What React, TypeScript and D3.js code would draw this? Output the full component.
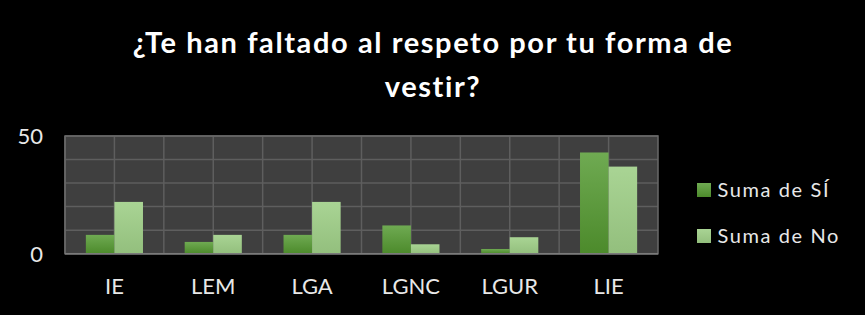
import React from "react";
import * as d3 from "d3";

const categories = ["IE", "LEM", "LGA", "LGNC", "LGUR", "LIE"];
const seriesNames = ["Suma de SÍ", "Suma de No"];
const valuesSi = [8, 5, 8, 12, 2, 43];
const valuesNo = [22, 8, 22, 4, 7, 37];
const yTicks = [0, 10, 20, 30, 40, 50];
const yTickLabels = [0, 50];
const titleLines = ["¿Te han faltado al respeto por tu forma de", "vestir?"];

const W = 865;
const H = 315;
const plot = { left: 65, right: 658, top: 136, bottom: 253.7 };
const FONT = "Lato, 'Open Sans', sans-serif";

export default function App() {
  const x = d3
    .scaleBand<string>()
    .domain(categories)
    .range([plot.left, plot.right]);
  const inner = d3
    .scaleBand<number>()
    .domain([0, 1])
    .range([0, x.bandwidth()])
    .paddingInner(0)
    .paddingOuter(0.73);
  const y = d3.scaleLinear().domain([0, 50]).range([plot.bottom, plot.top]);

  const series = [valuesSi, valuesNo];
  const fills = ["url(#gSi)", "url(#gNo)"];

  const vLines: number[] = [];
  categories.forEach((c) => {
    vLines.push(x(c)!);
    vLines.push(x(c)! + x.bandwidth() / 2);
  });

  return (
    <svg
      width={W}
      height={H}
      style={{ position: "absolute", left: 0, top: 0, background: "#000" }}
    >
      <defs>
        <linearGradient id="gSi" x1="0" y1="0" x2="0" y2="1">
          <stop offset="0" stopColor="#6faa52" />
          <stop offset="1" stopColor="#4c8a2b" />
        </linearGradient>
        <linearGradient id="gNo" x1="0" y1="0" x2="0" y2="1">
          <stop offset="0" stopColor="#a9d494" />
          <stop offset="1" stopColor="#93bf7d" />
        </linearGradient>
      </defs>
      <rect x={0} y={0} width={W} height={H} fill="#000" />
      {titleLines.map((t, i) => (
        <text
          key={i}
          x={433}
          y={i === 0 ? 53 : 97}
          textAnchor="middle"
          fill="#fff"
          fontFamily={FONT}
          fontWeight="bold"
          fontSize={29}
          letterSpacing={1.6}
        >
          {t}
        </text>
      ))}
      <rect
        x={plot.left}
        y={plot.top}
        width={plot.right - plot.left}
        height={plot.bottom - plot.top}
        fill="#3f3f3f"
      />
      {yTicks.map((t) => (
        <line
          key={"h" + t}
          x1={plot.left}
          x2={plot.right}
          y1={y(t)}
          y2={y(t)}
          stroke="#5e5e5e"
          strokeWidth={1.5}
        />
      ))}
      {vLines.map((v, i) => (
        <line
          key={"v" + i}
          x1={v}
          x2={v}
          y1={plot.top}
          y2={plot.bottom}
          stroke="#5e5e5e"
          strokeWidth={1.5}
        />
      ))}
      <rect
        x={plot.left}
        y={plot.top}
        width={plot.right - plot.left}
        height={plot.bottom - plot.top}
        fill="none"
        stroke="#6a6a6a"
        strokeWidth={1.5}
      />
      {series.map((vals, si) =>
        vals.map((v, ci) => (
          <rect
            key={si + "-" + ci}
            x={x(categories[ci])! + inner(si)!}
            y={y(v)}
            width={inner.bandwidth()}
            height={y(0) - y(v)}
            fill={fills[si]}
          />
        ))
      )}
      <line
        x1={plot.left}
        x2={plot.right}
        y1={y(0)}
        y2={y(0)}
        stroke="#7a7a7a"
        strokeWidth={1.5}
      />
      {yTickLabels.map((t) => (
        <text
          key={"yl" + t}
          x={43}
          y={y(t)}
          dy="0.36em"
          textAnchor="end"
          fill="#e8e8e8"
          fontFamily={FONT}
          fontSize={22}
        >
          {t}
        </text>
      ))}
      {categories.map((c) => (
        <text
          key={"xl" + c}
          x={x(c)! + x.bandwidth() / 2}
          y={294}
          textAnchor="middle"
          fill="#e8e8e8"
          fontFamily={FONT}
          fontSize={22}
        >
          {c}
        </text>
      ))}
      {seriesNames.map((n, i) => (
        <g key={"lg" + i} transform={`translate(697, ${183 + i * 46})`}>
          <rect x={0} y={0} width={14} height={14} fill={fills[i]} />
          <text
            x={20.5}
            y={14}
            fill="#e8e8e8"
            fontFamily={FONT}
            fontSize={20}
            letterSpacing={1.6}
          >
            {n}
          </text>
        </g>
      ))}
    </svg>
  );
}
